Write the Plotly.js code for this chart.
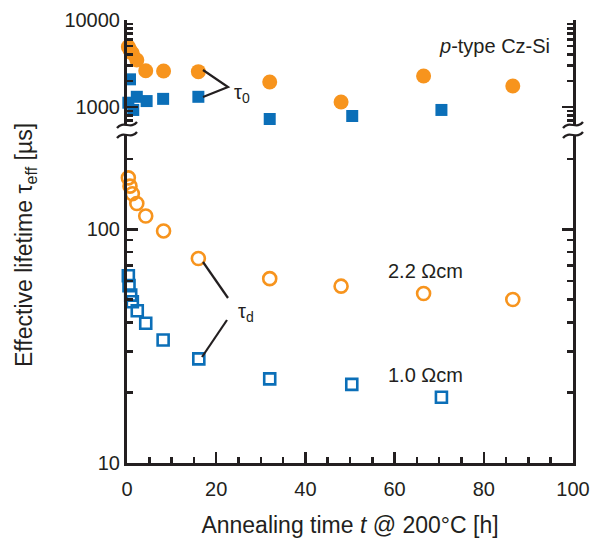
<!DOCTYPE html>
<html>
<head>
<meta charset="utf-8">
<script src="https://cdn.plot.ly/plotly-3.0.1.min.js"></script>
<style>html,body{margin:0;padding:0;background:#fff;}#chart{width:592px;height:538px;}</style>
</head>
<body>
<div id="chart"></div>
<script>
// Annealing time [h] and lifetimes [µs]
const tCirc   = [0.3, 0.67, 1.2, 2.2, 4.2, 8.2, 16, 32, 48, 66.5, 86.5];
const tau0_22 = [4930, 4520, 4140, 3470, 2610, 2590, 2550, 1940, 1140, 2270, 1740];
const taud_22 = [166, 153, 142, 129, 114, 98.4, 75, 61.5, 57.1, 53.1, 50.1];
const tSq0    = [0.3, 0.67, 1.4, 2.2, 4.4, 8.1, 16, 32, 50.5, 70.5];
const tau0_10 = [1120, 2080, 925, 1310, 1170, 1240, 1310, 728, 788, 925];
const tSqD    = [0.3, 0.45, 0.83, 1.2, 2.3, 4.2, 8.1, 16.1, 32, 50.4, 70.5];
const taud_10 = [63.3, 57.4, 52.3, 49.0, 44.8, 39.6, 33.6, 27.9, 22.9, 21.7, 19.1];

const xTicks = [0, 20, 40, 60, 80, 100];
const yLowTicks = [10, 100];
const yLowMinor = [20, 30, 40, 50, 60, 70, 80, 90, 200];
const yHighTicks = [1000, 10000];
const yHighMinor = [700, 800, 900, 2000, 3000, 4000, 5000, 6000, 7000, 8000, 9000];

const ORANGE = '#F7941D';
const BLUE = '#0B6FB8';
const INK = '#231F20';
const FONT = 'Liberation Sans, Arial, sans-serif';

const L = 127, R = 573, T = 20, B = 463;
const px = x => (x - L) / (R - L);
const py = y => (B - y) / (B - T);

const traces = [
  {x: tCirc, y: tau0_22, yaxis: 'y2', mode: 'markers', cliponaxis: false,
   marker: {symbol: 'circle', size: 15, color: ORANGE}},
  {x: tSq0, y: tau0_10, yaxis: 'y2', mode: 'markers', cliponaxis: false,
   marker: {symbol: 'square', size: 12, color: BLUE}},
  {x: tCirc, y: taud_22, yaxis: 'y', mode: 'markers', cliponaxis: false,
   marker: {symbol: 'circle-open', size: 13, color: ORANGE, line: {width: 2.6, color: ORANGE}}},
  {x: tSqD, y: taud_10, yaxis: 'y', mode: 'markers', cliponaxis: false,
   marker: {symbol: 'square-open', size: 11, color: BLUE, line: {width: 2.6, color: BLUE}}}
];

const tickCommon = {
  ticks: 'inside', ticklen: 11, tickwidth: 2.5, tickcolor: INK,
  showline: true, linewidth: 3, linecolor: INK,
  showgrid: false, zeroline: false,
  tickfont: {family: FONT, size: 20, color: INK}
};

const lowTop = py(135), highBot = py(125);
const lowRangeTop = 1 + (B - 135) / 233.7;
const highRangeBot = 4 - (125 - T) / 87;

function tilde(cx, cy) {
  return `M ${px(cx - 10)},${py(cy + 3)} C ${px(cx - 4)},${py(cy - 5)} ${px(cx + 4)},${py(cy + 5)} ${px(cx + 10)},${py(cy - 3)}`;
}

const lineStyle = {color: INK, width: 2.2};
const shapes = [
  {type: 'path', xref: 'paper', yref: 'paper', path: tilde(127, 125), line: lineStyle},
  {type: 'path', xref: 'paper', yref: 'paper', path: tilde(127, 135), line: lineStyle},
  {type: 'path', xref: 'paper', yref: 'paper', path: tilde(573, 125), line: lineStyle},
  {type: 'path', xref: 'paper', yref: 'paper', path: tilde(573, 135), line: lineStyle},
  {type: 'path', xref: 'paper', yref: 'paper', line: lineStyle,
   path: `M ${px(203)},${py(70)} L ${px(228)},${py(87)} L ${px(203)},${py(97)}`},
  {type: 'line', xref: 'paper', yref: 'paper', line: lineStyle,
   x0: px(203), y0: py(262), x1: px(228), y1: py(298)},
  {type: 'line', xref: 'paper', yref: 'paper', line: lineStyle,
   x0: px(227), y0: py(320), x1: px(202), y1: py(357)}
];

const annFont = {family: FONT, size: 20, color: INK};
const annotations = [
  {xref: 'paper', yref: 'paper', x: px(552), y: py(46), xanchor: 'right', yanchor: 'middle',
   text: '<i>p</i>-type Cz-Si', showarrow: false, font: annFont},
  {xref: 'paper', yref: 'paper', x: px(232), y: py(93), xanchor: 'left', yanchor: 'middle',
   text: 'τ<sub>0</sub>', showarrow: false, font: annFont},
  {xref: 'paper', yref: 'paper', x: px(236), y: py(313), xanchor: 'left', yanchor: 'middle',
   text: 'τ<sub>d</sub>', showarrow: false, font: annFont},
  {xref: 'paper', yref: 'paper', x: px(425), y: py(271), xanchor: 'center', yanchor: 'middle',
   text: '2.2 Ωcm', showarrow: false, font: annFont},
  {xref: 'paper', yref: 'paper', x: px(425), y: py(375), xanchor: 'center', yanchor: 'middle',
   text: '1.0 Ωcm', showarrow: false, font: annFont},
  {xref: 'paper', yref: 'paper', x: px(25), y: py(245), xanchor: 'center', yanchor: 'middle',
   textangle: -90, text: 'Effective lifetime τ<sub>eff</sub> [µs]', showarrow: false,
   font: {family: FONT, size: 23, color: INK}}
];

const layout = {
  width: 592, height: 538,
  margin: {l: L, r: 592 - R, t: T, b: 538 - B},
  paper_bgcolor: '#fff', plot_bgcolor: '#fff',
  showlegend: false,
  font: {family: FONT, color: INK},
  xaxis: Object.assign({}, tickCommon, {
    range: [0, 100], tickvals: xTicks, anchor: 'y', ticklabelstandoff: 6,
    minor: {dtick: 5, tick0: 0, ticks: 'inside', ticklen: 6, tickwidth: 2.5, tickcolor: INK},
    title: {text: 'Annealing time <i>t</i> @ 200°C [h]', font: {family: FONT, size: 23, color: INK}, standoff: 23}
  }),
  xaxis2: Object.assign({}, tickCommon, {
    range: [0, 100], tickvals: xTicks, overlaying: 'x', anchor: 'y2', side: 'top',
    showticklabels: false,
    minor: {dtick: 5, tick0: 0, ticks: 'inside', ticklen: 6, tickwidth: 2.5, tickcolor: INK}
  }),
  yaxis: Object.assign({}, tickCommon, {
    type: 'log', range: [1, lowRangeTop], domain: [0, lowTop], anchor: 'x',
    tickvals: yLowTicks, ticktext: yLowTicks.map(String), mirror: 'ticks',
    minor: {tickvals: yLowMinor, ticks: 'inside', ticklen: 6, tickwidth: 2.5, tickcolor: INK}
  }),
  yaxis2: Object.assign({}, tickCommon, {
    type: 'log', range: [highRangeBot, 4], domain: [highBot, 1], anchor: 'x',
    tickvals: yHighTicks, ticktext: yHighTicks.map(String), mirror: 'ticks',
    minor: {tickvals: yHighMinor, ticks: 'inside', ticklen: 6, tickwidth: 2.5, tickcolor: INK}
  }),
  shapes: shapes,
  annotations: annotations
};

Plotly.newPlot('chart', traces, layout, {staticPlot: true, displayModeBar: false});
</script>
</body>
</html>
